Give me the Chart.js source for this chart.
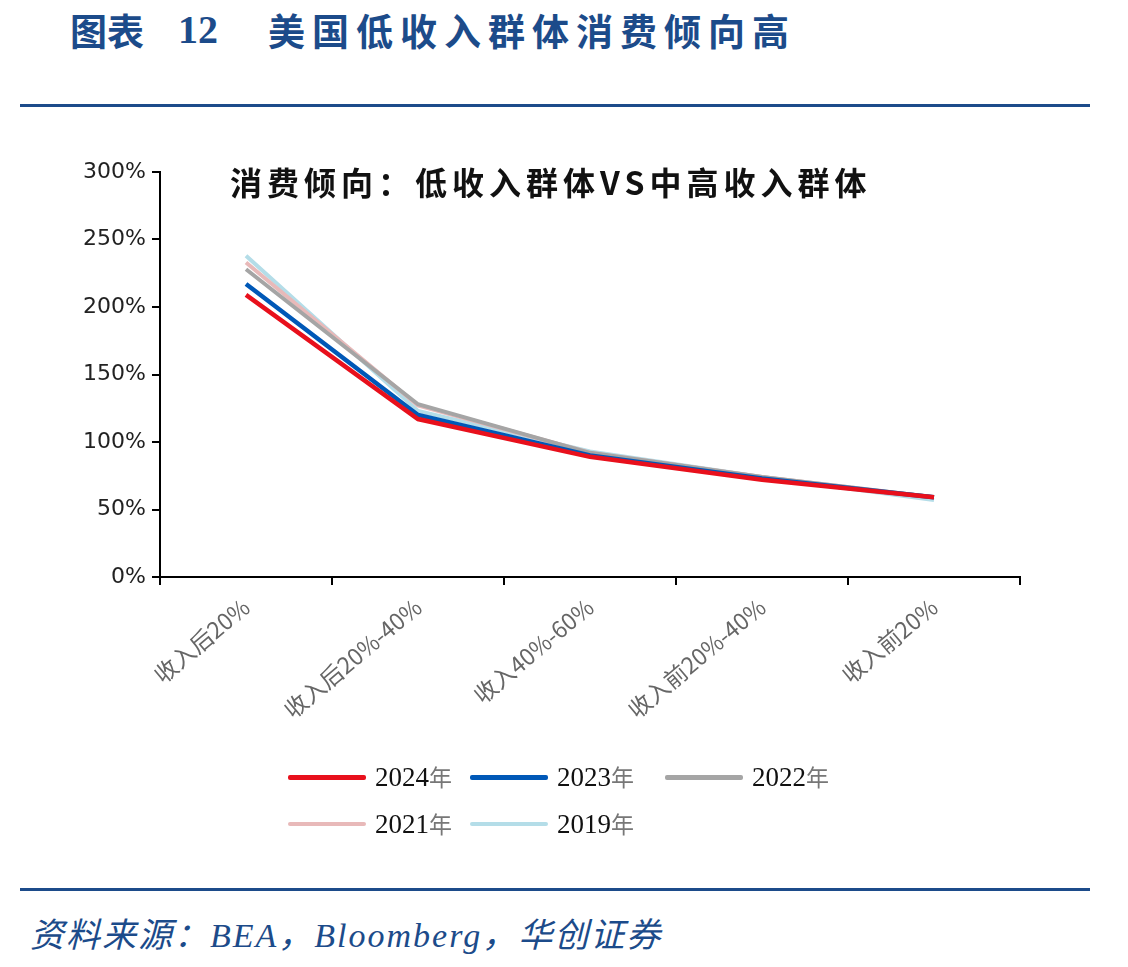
<!DOCTYPE html>
<html>
<head>
<meta charset="utf-8">
<script src="https://cdn.jsdelivr.net/npm/chart.js@4"></script>
<style>
  html, body { margin: 0; padding: 0; background: #fff; }
  body { width: 1128px; height: 967px; position: relative; overflow: hidden; }
  .head { position: absolute; top: 4px; left: 70px; color: #1c4b8a; font-family: "Noto Sans CJK SC", sans-serif; font-weight: 700; font-size: 37px; line-height: 52px; white-space: nowrap; }
  .head .num { position: absolute; left: 108px; font-family: "Liberation Serif", serif; font-size: 40px; }
  .head .main { position: absolute; left: 198px; letter-spacing: 7px; }
  .rule { position: absolute; left: 20px; width: 1070px; height: 3px; background: #1c4b8a; }
  .inner-title { position: absolute; left: 230px; top: 158px; font-family: "Noto Sans CJK SC", sans-serif; font-weight: 700; font-size: 32px; letter-spacing: 5px; color: #111; white-space: nowrap; }
  #chartBox { position: absolute; left: 0; top: 130px; width: 1128px; height: 740px; }
  .legend { position: absolute; left: 0; top: 0; font-family: "Liberation Serif", "Noto Sans CJK SC", serif; font-size: 27px; color: #111; }
  .legend .item { position: absolute; white-space: nowrap; height: 30px; }
  .legend .swatch { position: absolute; left: 0; top: 13px; width: 78px; border-radius: 2px; }
  .legend .txt { position: absolute; left: 87px; top: -1px; line-height: 30px; }
  .legend .txt span { font-family: "Noto Sans CJK SC", sans-serif; font-size: 23px; color: #777; }
  .source { position: absolute; left: 30px; top: 908px; color: #1c4b8a; font-family: "Liberation Serif", "Noto Sans CJK SC", serif; font-style: italic; font-size: 34px; letter-spacing: 2px; white-space: nowrap; }
</style>
</head>
<body>
<div class="head"><span>图表</span><span class="num">12</span><span class="main">美国低收入群体消费倾向高</span></div>
<div class="rule" style="top:104px"></div>
<div id="chartBox"><canvas id="chartPropensity" width="1128" height="740"></canvas></div>
<div class="inner-title">消费倾向：低收入群体VS中高收入群体</div>
<div class="legend" id="legend"></div>
<div class="rule" style="top:888px"></div>
<div class="source">资料来源：BEA，Bloomberg，华创证券</div>

<script>
// 收入分组
const categories = ['收入后20%', '收入后20%-40%', '收入40%-60%', '收入前20%-40%', '收入前20%'];

// 消费倾向（%）
const years = ['2024年', '2023年', '2022年', '2021年', '2019年'];
const values2024 = [209, 117, 89, 72, 59];
const values2023 = [217, 120, 90, 73, 59];
const values2022 = [228, 128, 92, 74, 59];
const values2021 = [233, 127, 92, 74, 59];
const values2019 = [238, 123, 93, 74, 57];

const yTicks = [0, 50, 100, 150, 200, 250, 300];

const palette = {
    red: '#e8101c',
    blue: '#0058b7',
    gray: '#a5a5a5',
    pink: '#e8b9b9',
    lightBlue: '#b4dde8',
};

const seriesColors = [palette.red, palette.blue, palette.gray, palette.pink, palette.lightBlue];
const seriesValues = [values2024, values2023, values2022, values2021, values2019];

const datasets = years.map(function (name, i) {
    return {
        label: name,
        data: seriesValues[i],
        borderColor: seriesColors[i],
        backgroundColor: seriesColors[i],
        borderWidth: i < 2 ? 4.5 : 4,
        pointRadius: 0,
        tension: 0,
        fill: false,
        order: i,
    };
});

const chart = new Chart(document.getElementById('chartPropensity'), {
    type: 'line',
    data: { labels: categories, datasets: datasets },
    options: {
        responsive: false,
        animation: false,
        layout: { padding: { top: 42, right: 108, left: 0, bottom: 0 } },
        plugins: {
            legend: { display: false },
            tooltip: { enabled: false },
        },
        scales: {
            x: {
                offset: true,
                border: { color: '#000', width: 2 },
                grid: { display: true, drawOnChartArea: false, offset: true, tickLength: 8, color: '#000', lineWidth: 2 },
                ticks: {
                    minRotation: 40,
                    maxRotation: 40,
                    padding: 8,
                    color: '#666',
                    font: { family: '"Noto Sans CJK SC", sans-serif', size: 23 },
                },
                afterFit: function (axis) { axis.height = 293; },
            },
            y: {
                min: 0,
                max: 300,
                afterBuildTicks: function (axis) {
                    axis.ticks = yTicks.map(function (v) { return { value: v }; });
                },
                border: { color: '#000', width: 2 },
                grid: { display: true, drawOnChartArea: false, tickLength: 8, color: '#000', lineWidth: 2 },
                ticks: {
                    padding: 6,
                    color: '#222',
                    font: { family: '"DejaVu Sans", sans-serif', size: 22 },
                    callback: function (v) { return v + '%'; },
                },
                afterFit: function (axis) { axis.width = 160; },
            },
        },
    },
});

// legend laid out like the source: three per row
const legendSlots = [[288, 762], [470, 762], [665, 762], [288, 809], [470, 809]];
const legendEl = document.getElementById('legend');
chart.data.datasets.forEach(function (ds, i) {
    const item = document.createElement('div');
    item.className = 'item';
    item.style.left = legendSlots[i][0] + 'px';
    item.style.top = legendSlots[i][1] + 'px';
    const sw = document.createElement('div');
    sw.className = 'swatch';
    sw.style.background = ds.borderColor;
    sw.style.height = (i < 3 ? 5 : 4) + 'px';
    const txt = document.createElement('div');
    txt.className = 'txt';
    txt.innerHTML = ds.label.replace('年', '<span>年</span>');
    item.appendChild(sw);
    item.appendChild(txt);
    legendEl.appendChild(item);
});
</script>
</body>
</html>
